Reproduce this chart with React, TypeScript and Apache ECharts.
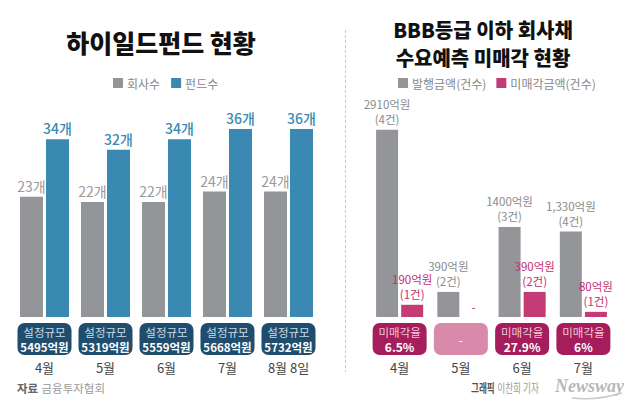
import React, { useEffect, useRef } from "react";
import * as echarts from "echarts";

const FONT = '"Noto Sans CJK KR", "Noto Sans", sans-serif';

// Left chart data
const leftMonths = ["4월", "5월", "6월", "7월", "8월 8일"];
const companies = [23, 22, 22, 24, 24];
const funds = [34, 32, 34, 36, 36];
const fundSize = ["5495억원", "5319억원", "5559억원", "5668억원", "5732억원"];

// Right chart data
const rightMonths = ["4월", "5월", "6월", "7월"];
const issued = [2910, 390, 1400, 1330];
const issuedText = ["2910억원", "390억원", "1400억원", "1,330억원"];
const issuedCount = [4, 2, 3, 4];
const unsold = [190, 0, 390, 80];
const unsoldCount = [1, 0, 2, 1];
const unsoldRate = ["6.5%", "-", "27.9%", "6%"];

const GRAY = "#939598";
const BLUE = "#3a89b3";
const PINK = "#c43b76";
const NAVY = "#1e4d6d";
const MAGENTA = "#a51d5a";
const LIGHTPINK = "#d98aab";

export default function App() {
  const ref = useRef<HTMLDivElement>(null);
  useEffect(() => {
    if (!ref.current) return;
    const chart = echarts.init(ref.current, null, { renderer: "svg" });
    const monthLabel = {
      interval: 0,
      margin: 44,
      fontSize: 13,
      color: "#444",
      fontFamily: FONT,
    };
    const boxLabelBase = {
      interval: 0,
      margin: 6,
      width: 54,
      padding: [1, 0, 1, 0],
      borderRadius: 7,
      fontFamily: FONT,
      align: "center",
    };
    const option: any = {
      animation: false,
      backgroundColor: "#ffffff",
      textStyle: { fontFamily: FONT },
      title: [
        {
          text: "하이일드펀드 현황",
          left: 161,
          top: 29,
          textAlign: "center",
          padding: 0,
          textStyle: { fontSize: 25, fontWeight: 900, color: "#111", fontFamily: FONT },
        },
        {
          text: "BBB등급 이하 회사채\n수요예측 미매각 현황",
          left: 483,
          top: 15,
          textAlign: "center",
          padding: 0,
          textStyle: { fontSize: 20, fontWeight: 900, color: "#111", lineHeight: 28, fontFamily: FONT },
        },
      ],
      legend: [
        {
          data: ["회사수", "펀드수"],
          left: 113,
          top: 77,
          padding: 0,
          icon: "rect",
          itemWidth: 10,
          itemHeight: 10,
          itemGap: 11,
          textStyle: { color: "#888", fontSize: 12, fontFamily: FONT, padding: [0, 0, 0, -1] },
        },
        {
          data: ["발행금액(건수)", "미매각금액(건수)"],
          left: 398,
          top: 77,
          padding: 0,
          icon: "rect",
          itemWidth: 10,
          itemHeight: 10,
          itemGap: 10,
          textStyle: { color: "#888", fontSize: 12, fontFamily: FONT, padding: [0, 0, 0, -1] },
        },
      ],
      grid: [
        { left: 14, width: 305, top: 108, bottom: 95 },
        { left: 369, width: 245, top: 124, bottom: 95 },
      ],
      xAxis: [
        {
          type: "category",
          gridIndex: 0,
          data: leftMonths,
          position: "bottom",
          axisLine: { show: false },
          axisTick: { show: false },
          axisLabel: monthLabel,
        },
        {
          type: "category",
          gridIndex: 1,
          data: rightMonths,
          position: "bottom",
          axisLine: { show: false },
          axisTick: { show: false },
          axisLabel: monthLabel,
        },
        {
          type: "category",
          gridIndex: 0,
          data: leftMonths,
          position: "bottom",
          axisLine: { show: false },
          axisTick: { show: false },
          axisLabel: {
            ...boxLabelBase,
            backgroundColor: NAVY,
            formatter: (_v: string, i: number) => `{a|설정규모}\n{b|${fundSize[i]}}`,
            rich: {
              a: { color: "#c9dbe8", fontSize: 11.5, lineHeight: 15, align: "center", fontFamily: FONT },
              b: { color: "#ffffff", fontSize: 11.5, fontWeight: "bold", lineHeight: 15, align: "center", fontFamily: FONT },
            },
          },
        },
        {
          type: "category",
          gridIndex: 1,
          data: rightMonths.map((m, i) =>
            unsoldRate[i] === "-" ? { value: m, textStyle: { backgroundColor: LIGHTPINK } } : { value: m }
          ),
          position: "bottom",
          axisLine: { show: false },
          axisTick: { show: false },
          axisLabel: {
            ...boxLabelBase,
            backgroundColor: MAGENTA,
            formatter: (_v: string, i: number) =>
              unsoldRate[i] === "-" ? `{c|-}` : `{a|미매각율}\n{b|${unsoldRate[i]}}`,
            rich: {
              a: { color: "#f0c6d8", fontSize: 11.5, lineHeight: 15, align: "center", fontFamily: FONT },
              b: { color: "#ffffff", fontSize: 12, fontWeight: "bold", lineHeight: 15, align: "center", fontFamily: FONT },
              c: { color: "#ffffff", fontSize: 12, lineHeight: 30, align: "center", fontFamily: FONT },
            },
          },
        },
      ],
      yAxis: [
        { type: "value", gridIndex: 0, min: 0, max: 40, show: false },
        { type: "value", gridIndex: 1, min: 0, max: 3000, show: false },
      ],
      series: [
        {
          name: "회사수",
          type: "bar",
          xAxisIndex: 0,
          yAxisIndex: 0,
          data: companies,
          barWidth: 23,
          barGap: "13%",
          itemStyle: { color: GRAY },
          label: {
            show: true,
            position: "top",
            distance: 4,
            formatter: "{c}개",
            color: "#9a9a9a",
            fontSize: 14,
            fontFamily: FONT,
          },
        },
        {
          name: "펀드수",
          type: "bar",
          xAxisIndex: 0,
          yAxisIndex: 0,
          data: funds,
          barWidth: 23,
          itemStyle: { color: BLUE },
          label: {
            show: true,
            position: "top",
            distance: 4,
            formatter: "{c}개",
            color: BLUE,
            fontSize: 14,
            fontWeight: 500,
            fontFamily: FONT,
          },
        },
        {
          name: "발행금액(건수)",
          type: "bar",
          xAxisIndex: 1,
          yAxisIndex: 1,
          data: issued,
          barWidth: 22,
          barGap: "14%",
          itemStyle: { color: GRAY },
          label: {
            show: true,
            position: "top",
            distance: 3,
            formatter: (p: any) => `${issuedText[p.dataIndex]}\n(${issuedCount[p.dataIndex]}건)`,
            color: "#8a8a8a",
            fontSize: 11.5,
            lineHeight: 15,
            fontFamily: FONT,
          },
        },
        {
          name: "미매각금액(건수)",
          type: "bar",
          xAxisIndex: 1,
          yAxisIndex: 1,
          data: unsold,
          barWidth: 22,
          itemStyle: { color: PINK },
          label: {
            show: true,
            position: "top",
            distance: 3,
            formatter: (p: any) =>
              unsold[p.dataIndex] === 0
                ? "-"
                : `${unsold[p.dataIndex]}억원\n(${unsoldCount[p.dataIndex]}건)`,
            color: "#c2306f",
            fontSize: 11.5,
            lineHeight: 15,
            fontFamily: FONT,
          },
        },
      ],
      graphic: [
        {
          type: "line",
          shape: { x1: 345.5, y1: 30, x2: 345.5, y2: 372 },
          style: { stroke: "#c8c8c8", lineWidth: 1, lineDash: [3, 2] },
        },
        {
          type: "text",
          left: 17,
          top: 382,
          style: {
            text: "{a|자료} {b|금융투자협회}",
            rich: {
              a: { fill: "#666", fontSize: 11.5, fontWeight: "bold", fontFamily: FONT },
              b: { fill: "#9a9a9a", fontSize: 11.5, fontFamily: FONT },
            },
          },
        },
        {
          type: "text",
          x: 471,
          y: 382,
          scaleX: 0.72,
          style: {
            text: "{a|그래픽} {b|이찬희 기자}",
            rich: {
              a: { fill: "#555", fontSize: 12, fontWeight: "bold", fontFamily: FONT },
              b: { fill: "#9a9a9a", fontSize: 12, fontFamily: FONT },
            },
          },
        },
        {
          type: "text",
          x: 555,
          y: 377,
          style: {
            text: "Newsway",
            fill: "#b8b8b8",
            font: 'italic bold 18px "Liberation Serif", "DejaVu Serif", serif',
          },
        },
        {
          type: "bezierCurve",
          shape: { x1: 572, y1: 398, x2: 622, y2: 393, cpx1: 595, cpy1: 401 },
          style: { stroke: "#c8c8c8", lineWidth: 1.5, fill: "none" },
        },
      ],
    };
    chart.setOption(option);
    return () => chart.dispose();
  }, []);
  return (
    <div
      ref={ref}
      style={{ position: "fixed", left: 0, top: 0, width: 640, height: 412, background: "#fff" }}
    />
  );
}
